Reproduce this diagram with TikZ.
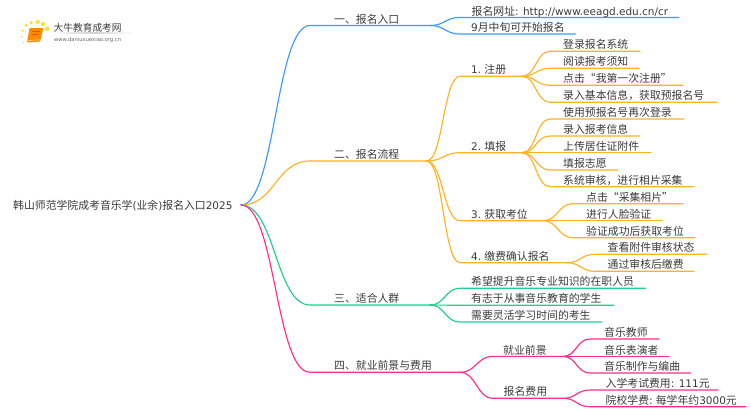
\documentclass[tikz,border=0pt]{standalone}
\usepackage{fontspec}
\usetikzlibrary{calc}
\setmainfont{Noto Sans CJK SC}
\newfontfamily\latf[Scale=0.965]{DejaVu Sans}
\newcommand\lat[1]{{\latf #1}}
\definecolor{cblue}{HTML}{3A9BFF}
\definecolor{corange}{HTML}{FFB224}
\definecolor{cgreen}{HTML}{22CF8A}
\definecolor{cpink}{HTML}{FF2E88}
\definecolor{ctext}{HTML}{3A3A3A}
\tikzset{
  lab/.style={anchor=base west,inner sep=0pt,text=ctext,font=\fontsize{10.85}{12}\selectfont},
  wire/.style={line width=1.15pt,line cap=round},
}
% \branch{name}{parent}{colour}{curve end x}{line y}{text x}{line end x}{text}
\newcommand\branch[8]{%
  \coordinate (#1-s) at (#4,#5);
  \coordinate (#1) at (#7,#5);
  \node[lab] (#1-t) at (#6,#5-2.4) {#8};
  \draw[wire,#3] let \p1=(#2),\p2=(#1-s) in (#2) .. controls ({0.5*(\x1+\x2)},\y1) and ({0.5*(\x1+\x2)},\y2) .. (#1-s) -- (#1);
}
\begin{document}
\begin{tikzpicture}[x=1pt,y=-1pt]
\useasboundingbox (0,0) rectangle (750,410);
% logo
\foreach \px/\py/\r in {23.3/42.7/0.8,21.7/36.7/1,22.7/30.7/1.3,26/25.3/1.6,31.3/22.7/1.9,37.7/22/2.1,43/24/2.2,47.3/28.7/2.4}
  \fill[yellow!70!orange,opacity=.75] (\px,\py) circle[radius=\r];
\fill[orange!90!yellow,rounded corners=.8pt] (29.5,28) -- (43.5,28) -- (40,41.5) -- (27,42.5) -- cycle;
\draw[white!70!orange,line width=.5pt] (28,40.5) -- (40,39.8);
\draw[orange!60!red,line width=.5pt] (32,31.5) -- (40,31.5) (31.5,34) -- (38,34);
\shade[left color=white,right color=white,middle color=black!18] (52,32.8) rectangle (134,33.5);
\node[lab,font=\fontsize{9.7}{11}\selectfont] (logoa) at (53.5,31) {大牛教育成考网};
\node[lab,text=black!60,font=\latf\fontsize{5.4}{6}\selectfont] (logob) at (54,41) {www.daniuxuexiao.org.cn};
% root
\node[lab] (root-t) at (13,209.3) {韩山师范学院成考音乐学\lat{(}业余\lat{)}报名入口\lat{2025}};
\coordinate (root) at (241,205);
% 1
\branch{a}{root}{cblue}{310}{25.5}{334}{430}{一、报名入口}
\branch{a1}{a}{cblue}{460}{17.5}{471.5}{679}{报名网址\lat{: http://www.eeagd.edu.cn/cr}}
\branch{a2}{a}{cblue}{460}{34}{471}{575.5}{\lat{9}月中旬可开始报名}
% 2
\branch{b}{root}{corange}{310}{161}{334}{426.5}{二、报名流程}
\branch{b1}{b}{corange}{460}{76.3}{471}{522}{\lat{1.} 注册}
\branch{b2}{b}{corange}{460}{152.7}{471}{522}{\lat{2.} 填报}
\branch{b3}{b}{corange}{460}{220.7}{471}{543}{\lat{3.} 获取考位}
\branch{b4}{b}{corange}{460}{262.7}{471}{566.5}{\lat{4.} 缴费确认报名}
\branch{c1}{b1}{corange}{550}{51.3}{563}{640}{登录报名系统}
\branch{c2}{b1}{corange}{550}{68.3}{563}{639}{阅读报考须知}
\branch{c3}{b1}{corange}{550}{85.3}{563}{683}{点击“我第一次注册”}
\branch{c4}{b1}{corange}{550}{102.3}{563}{717}{录入基本信息，获取预报名号}
\branch{d1}{b2}{corange}{550}{119}{563}{684}{使用预报名号再次登录}
\branch{d2}{b2}{corange}{550}{136}{563}{640}{录入报考信息}
\branch{d3}{b2}{corange}{550}{152.7}{563}{651}{上传居住证附件}
\branch{d4}{b2}{corange}{550}{170}{563}{618}{填报志愿}
\branch{d5}{b2}{corange}{550}{186.7}{563}{694}{系统审核，进行相片采集}
\branch{e1}{b3}{corange}{573}{203.7}{586}{683}{点击“采集相片”}
\branch{e2}{b3}{corange}{573}{220.7}{586}{662}{进行人脸验证}
\branch{e3}{b3}{corange}{573}{237.7}{586}{695}{验证成功后获取考位}
\branch{f1}{b4}{corange}{595}{254.3}{607.5}{706.5}{查看附件审核状态}
\branch{f2}{b4}{corange}{595}{271.3}{607.5}{694}{通过审核后缴费}
% 3
\branch{g}{root}{cgreen}{310}{305}{334}{430}{三、适合人群}
\branch{g1}{g}{cgreen}{460}{288.3}{471}{645.5}{希望提升音乐专业知识的在职人员}
\branch{g2}{g}{cgreen}{460}{305.3}{471}{614}{有志于从事音乐教育的学生}
\branch{g3}{g}{cgreen}{460}{322}{471}{602}{需要灵活学习时间的考生}
% 4
\branch{h}{root}{cpink}{310}{372.3}{334}{460}{四、就业前景与费用}
\branch{h1}{h}{cpink}{493}{356.4}{503}{563}{就业前景}
\branch{h2}{h}{cpink}{493}{398.3}{503.5}{563}{报名费用}
\branch{i1}{h1}{cpink}{590}{339}{604}{659}{音乐教师}
\branch{i2}{h1}{cpink}{590}{356.4}{604}{669}{音乐表演者}
\branch{i3}{h1}{cpink}{590}{373}{604}{690.5}{音乐制作与编曲}
\branch{j1}{h2}{cpink}{590}{390}{605.5}{718}{入学考试费用\lat{: 111}元}
\branch{j2}{h2}{cpink}{590}{406.7}{605.5}{746}{院校学费\lat{:} 每学年约\lat{3000}元}
\end{tikzpicture}
\end{document}
